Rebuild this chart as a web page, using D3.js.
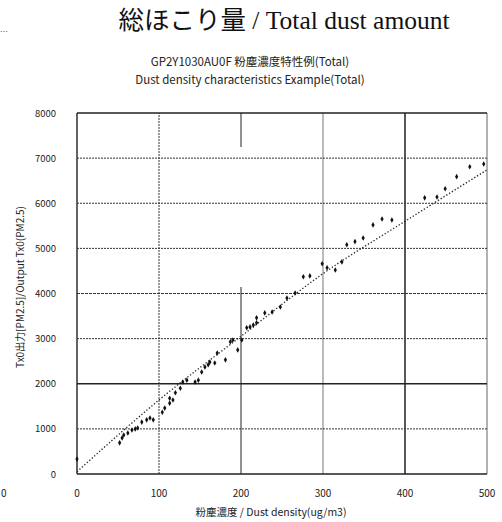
<!DOCTYPE html>
<html>
<head>
<meta charset="utf-8">
<script src="https://cdn.jsdelivr.net/npm/d3@7"></script>
<style>
  html, body { margin: 0; padding: 0; background: #fff; }
  svg { display: block; }
</style>
</head>
<body>
<script>
// Measured sensor output vs. dust density
const dustDensity = [0, 52, 55, 57, 62, 67, 71, 74, 79, 85, 89, 93, 104, 107, 113, 117,
  113, 120, 126, 129, 134, 144, 148, 152, 156, 160, 162, 168, 171, 181, 187, 190, 196, 201,
  207, 211, 215, 219, 219, 229, 238, 248, 256, 266, 276, 284, 299, 305, 315, 323, 329, 339,
  349, 361, 372, 384, 424, 439, 449, 463, 479, 496];
const outputTx0 = [330, 690, 800, 865, 910, 975, 1000, 1020, 1150, 1200, 1240, 1200, 1370, 1460, 1570, 1640,
  1680, 1800, 1900, 2040, 2080, 2040, 2080, 2260, 2370, 2420, 2480, 2460, 2680, 2530, 2930, 2970, 2750, 2970,
  3240, 3260, 3300, 3350, 3460, 3570, 3590, 3700, 3900, 4010, 4370, 4390, 4660, 4570, 4520, 4700, 5080, 5150,
  5230, 5520, 5650, 5630, 6120, 6140, 6320, 6590, 6810, 6870];

// Approximation line
const trendX = [0, 100, 200, 300, 400, 500];
const trendY = [50, 1640, 3050, 4440, 5600, 6740];

const xTicks = [0, 100, 200, 300, 400, 500];
const yTicks = [0, 1000, 2000, 3000, 4000, 5000, 6000, 7000, 8000];

const W = 502, H = 522;
const plot = { left: 77, right: 487, top: 113, bottom: 474 };

const svg = d3.select("body").append("svg").attr("width", W).attr("height", H);

const x = d3.scaleLinear().domain([0, 500]).range([plot.left, plot.right]);
const y = d3.scaleLinear().domain([0, 8000]).range([plot.bottom, plot.top]);

const sans = "'Noto Sans CJK JP', 'Noto Sans', sans-serif";

// Titles
svg.append("text")
  .attr("x", 284).attr("y", 29)
  .attr("text-anchor", "middle")
  .attr("font-family", "'Liberation Serif', 'Noto Sans CJK JP', serif")
  .attr("font-size", 25.5).attr("fill", "#111")
  .text("総ほこり量  / Total dust amount");

svg.append("text")
  .attr("x", 250).attr("y", 66)
  .attr("text-anchor", "middle")
  .attr("font-family", sans).attr("font-size", 11.5).attr("fill", "#222")
  .text("GP2Y1030AU0F 粉塵濃度特性例(Total)");

svg.append("text")
  .attr("x", 250).attr("y", 84)
  .attr("text-anchor", "middle")
  .attr("font-family", sans).attr("font-size", 11.5).attr("fill", "#222")
  .text("Dust density characteristics Example(Total)");

// Stray marks along the left edge
svg.append("text").attr("x", 0).attr("y", 35)
  .attr("font-family", sans).attr("font-size", 8).attr("fill", "#555").text("…");
svg.append("text").attr("x", 1).attr("y", 497)
  .attr("font-family", sans).attr("font-size", 10).attr("fill", "#222").text("0");

// Grid (vertical lines drawn bottom-to-top so dash patterns start at the x axis)
const grid = svg.append("g");
const vStyle = { 0: "none", 100: "2,1", 200: "187,140,40", 300: "none", 400: "none", 500: "none" };
const vColor = { 0: "#222", 100: "#333", 200: "#222", 300: "#777", 400: "#111", 500: "#666" };
grid.selectAll("line.v").data(xTicks).join("line")
  .attr("class", "v")
  .attr("x1", d => x(d)).attr("x2", d => x(d))
  .attr("y1", y(0)).attr("y2", y(8000))
  .attr("stroke", d => vColor[d])
  .attr("stroke-width", d => d === 400 || d === 0 ? 1.4 : 1)
  .attr("stroke-dasharray", d => vStyle[d]);

const hStyle = { 0: "none", 1000: "2,1", 2000: "none", 3000: "2,1", 4000: "3,1", 5000: "2,1", 6000: "2,1", 7000: "2,1", 8000: "none" };
grid.selectAll("line.h").data(yTicks).join("line")
  .attr("class", "h")
  .attr("x1", x(0)).attr("x2", x(500))
  .attr("y1", d => y(d)).attr("y2", d => y(d))
  .attr("stroke", d => d === 2000 || d === 0 || d === 8000 ? "#222" : "#333")
  .attr("stroke-width", d => d === 2000 || d === 0 || d === 8000 ? 1.3 : 1)
  .attr("stroke-dasharray", d => hStyle[d]);

// Tick labels
svg.append("g").selectAll("text").data(yTicks).join("text")
  .attr("x", 56).attr("y", d => y(d) + 3.5)
  .attr("text-anchor", "end")
  .attr("font-family", sans).attr("font-size", 9.5).attr("fill", "#222")
  .text(d => d);

svg.append("g").selectAll("text").data(xTicks).join("text")
  .attr("x", d => x(d)).attr("y", 497)
  .attr("text-anchor", "middle")
  .attr("font-family", sans).attr("font-size", 10).attr("fill", "#222")
  .text(d => d);

// Axis titles
svg.append("text")
  .attr("transform", "translate(24,287) rotate(-90)")
  .attr("text-anchor", "middle")
  .attr("font-family", sans).attr("font-size", 10).attr("fill", "#222")
  .text("Tx0出力[PM2.5]/Output Tx0(PM2.5)");

svg.append("text")
  .attr("x", 271).attr("y", 516)
  .attr("text-anchor", "middle")
  .attr("font-family", sans).attr("font-size", 10.5).attr("fill", "#222")
  .text("粉塵濃度 / Dust density(ug/m3)");

// Approximation line (dotted)
const line = d3.line().x((d, i) => x(trendX[i])).y(d => y(d)).curve(d3.curveMonotoneX);
svg.append("path")
  .attr("d", line(trendY))
  .attr("fill", "none")
  .attr("stroke", "#222")
  .attr("stroke-width", 1.3)
  .attr("stroke-dasharray", "1.3,2");

// Data points
const sym = d3.symbol().type(d3.symbolDiamond).size(9);
svg.append("g").selectAll("path").data(dustDensity).join("path")
  .attr("transform", (d, i) => `translate(${x(d)},${y(outputTx0[i])})`)
  .attr("d", sym)
  .attr("fill", "#111");
</script>
</body>
</html>
